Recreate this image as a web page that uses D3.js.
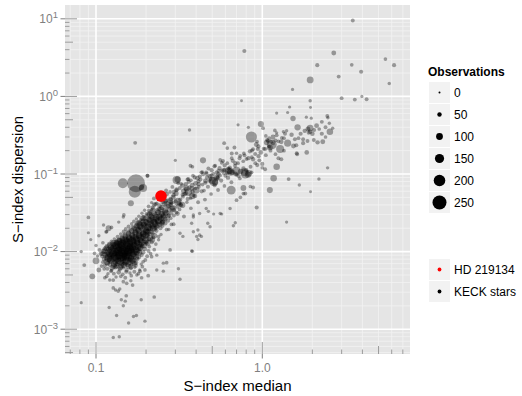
<!DOCTYPE html>
<html>
<head>
<meta charset="utf-8">
<script src="https://cdn.jsdelivr.net/npm/d3@7"></script>
<style>
  body { margin: 0; background: #fff; }
  svg { display: block; font-family: "Liberation Sans", Arial, Helvetica, sans-serif; }
</style>
</head>
<body>
<svg id="chart" width="522" height="396"></svg>
<script>
// Chromospheric activity of KECK stars: S-index median vs. dispersion, [median, dispersion, observations]

// Dense core of quiet stars
const keckCore = [
  [.117,.0060,40],[.124,.0057,30],[.131,.0063,55],[.139,.0059,45],[.146,.0062,35],[.153,.0058,50],[.162,.0061,40],[.171,.0063,30],[.183,.0058,25],
  [.113,.0066,45],[.121,.0068,60],[.128,.0065,75],[.134,.0069,50],[.142,.0066,80],[.149,.0070,55],[.156,.0065,65],[.164,.0068,45],[.173,.0066,50],[.187,.0069,30],
  [.110,.0073,35],[.117,.0071,65],[.124,.0075,85],[.130,.0072,60],[.136,.0076,95],[.143,.0071,80],[.150,.0074,100],[.158,.0072,70],[.165,.0076,85],[.174,.0072,55],[.192,.0074,35],
  [.112,.0080,60],[.120,.0078,50],[.126,.0082,100],[.133,.0077,75],[.139,.0081,115],[.145,.0078,90],[.152,.0082,105],[.160,.0079,70],[.167,.0077,95],[.177,.0081,55],[.198,.0078,40],
  [.109,.0087,45],[.116,.0084,85],[.123,.0089,105],[.129,.0085,125],[.136,.0088,95],[.142,.0084,115],[.148,.0089,100],[.155,.0086,125],[.162,.0083,80],[.170,.0088,75],[.181,.0085,60],[.203,.0087,40],
  [.107,.0094,50],[.114,.0091,80],[.121,.0095,115],[.127,.0092,130],[.133,.0096,105],[.139,.0090,125],[.146,.0094,115],[.152,.0091,130],[.159,.0096,95],[.167,.0092,90],[.176,.0095,70],[.188,.0091,50],[.213,.0094,35],
  [.111,.0101,65],[.118,.0098,90],[.124,.0103,125],[.130,.0099,135],[.137,.0104,115],[.143,.0098,135],[.149,.0102,125],[.156,.0099,135],[.163,.0104,100],[.171,.0100,90],[.180,.0103,75],[.192,.0098,55],[.207,.0102,40],
  [.113,.0109,55],[.120,.0106,85],[.127,.0111,110],[.133,.0107,130],[.139,.0112,120],[.145,.0105,130],[.152,.0110,115],[.159,.0107,135],[.166,.0112,100],[.174,.0106,95],[.184,.0110,70],[.197,.0108,55],[.224,.0106,35],
  [.116,.0117,50],[.123,.0114,80],[.130,.0119,105],[.136,.0115,115],[.142,.0120,110],[.148,.0113,125],[.155,.0118,105],[.162,.0116,120],[.170,.0120,90],[.179,.0114,85],[.190,.0118,60],[.209,.0116,40],
  [.120,.0126,45],[.127,.0122,75],[.134,.0128,95],[.140,.0124,110],[.146,.0129,100],[.153,.0123,115],[.160,.0127,100],[.168,.0124,95],[.177,.0129,85],[.187,.0123,65],[.201,.0127,50],[.229,.0125,35],
  [.124,.0135,40],[.132,.0131,70],[.139,.0137,85],[.146,.0133,100],[.153,.0138,95],[.160,.0132,100],[.168,.0136,90],[.177,.0131,85],[.187,.0137,70],[.199,.0134,55],[.217,.0132,40],
  [.129,.0145,35],[.137,.0141,60],[.144,.0147,80],[.151,.0143,90],[.158,.0148,85],[.166,.0142,95],[.174,.0146,90],[.184,.0141,80],[.195,.0147,65],[.209,.0144,50],[.238,.0142,30],
  [.135,.0156,40],[.143,.0152,55],[.150,.0158,75],[.157,.0154,85],[.165,.0160,80],[.173,.0152,90],[.182,.0157,85],[.192,.0155,75],[.204,.0159,55],[.221,.0153,40],
  [.141,.0168,40],[.149,.0164,55],[.157,.0171,70],[.165,.0166,80],[.173,.0172,85],[.182,.0165,90],[.192,.0169,80],[.204,.0167,65],[.219,.0172,45],[.246,.0166,30]
];

// Heavily observed stars packed inside the core
const keckCoreDeep = [
  [.119,.0083,120],[.126,.0097,140],[.131,.0088,150],[.135,.0101,130],[.138,.0093,145],[.142,.0106,140],[.147,.0097,150],[.151,.0086,130],[.155,.0104,145],[.158,.0114,125],
  [.162,.0099,135],[.166,.0108,120],[.171,.0118,130],[.175,.0101,110],[.179,.0124,120],[.184,.0113,100],[.188,.0132,115],[.194,.0121,90],[.199,.0140,105],[.205,.0130,80],
  [.211,.0150,95],[.218,.0141,75],[.224,.0160,85],
  [.122,.0118,110],[.128,.0128,100],[.133,.0121,120],[.137,.0133,110],[.143,.0125,125],[.148,.0139,115],[.153,.0130,125],[.159,.0145,110],[.164,.0136,120],[.169,.0151,105],
  [.175,.0141,115],[.181,.0160,100],[.186,.0150,110],[.193,.0170,95],[.198,.0162,100],[.206,.0181,85],
  [.116,.0074,90],[.122,.0079,110],[.129,.0070,100],[.134,.0083,125],[.140,.0075,115],[.146,.0085,125],[.152,.0077,110],[.157,.0090,120],[.163,.0080,100],[.168,.0094,105],
  [.174,.0085,90],[.182,.0097,80],
  [.125,.0062,70],[.133,.0066,85],[.140,.0063,80],[.147,.0067,90],[.155,.0069,80],[.162,.0064,65],[.170,.0071,70],
  [.110,.0094,70],[.113,.0102,80],[.116,.0111,75],[.118,.0089,90],
  [.175,.0190,100],[.185,.0215,110],[.195,.0238,115],[.205,.0205,120],[.214,.0255,110],[.222,.0232,120],[.230,.0275,105],[.238,.0250,110],[.246,.0298,100],[.255,.0272,95],
  [.262,.0320,90],[.180,.0230,90],[.192,.0270,80],[.210,.0300,85],[.200,.0180,95],[.220,.0200,90],[.235,.0220,80],[.250,.0235,70]
];

// Main activity sequence rising from the core
const keckBand = [
  [.147,.0181,45],[.156,.0177,55],[.164,.0184,70],[.172,.0179,80],[.181,.0186,90],[.191,.0178,85],[.202,.0183,75],[.215,.0180,60],[.231,.0185,45],
  [.151,.0196,40],[.161,.0192,50],[.170,.0199,65],[.179,.0194,80],[.189,.0201,90],[.199,.0193,95],[.211,.0198,80],[.225,.0195,65],[.244,.0200,45],[.274,.0193,30],
  [.157,.0211,40],[.167,.0207,50],[.176,.0214,65],[.185,.0209,80],[.195,.0216,95],[.206,.0208,100],[.218,.0213,85],[.232,.0210,65],[.251,.0215,45],
  [.164,.0228,35],[.174,.0223,45],[.183,.0231,60],[.193,.0225,75],[.203,.0233,90],[.214,.0224,100],[.227,.0229,90],[.242,.0226,70],[.261,.0232,50],[.284,.0224,35],
  [.169,.0246,35],[.180,.0241,45],[.190,.0249,60],[.200,.0243,75],[.211,.0252,90],[.223,.0242,95],[.236,.0247,85],[.252,.0244,65],[.271,.0250,45],
  [.175,.0264,30],[.186,.0260,40],[.197,.0268,55],[.208,.0262,70],[.219,.0271,85],[.231,.0261,90],[.245,.0266,80],[.261,.0263,60],[.281,.0270,40],
  [.181,.0286,30],[.193,.0281,40],[.204,.0291,55],[.215,.0284,70],[.227,.0294,85],[.240,.0282,90],[.254,.0288,75],[.271,.0285,55],[.294,.0292,40],
  [.189,.0312,30],[.201,.0306,40],[.212,.0318,55],[.224,.0309,70],[.236,.0321,80],[.249,.0307,85],[.264,.0315,70],[.282,.0311,50],[.305,.0319,35],
  [.196,.0342,30],[.208,.0336,40],[.220,.0349,55],[.233,.0339,65],[.246,.0352,75],[.260,.0337,80],[.276,.0345,65],[.294,.0341,50],[.318,.0350,35],
  [.207,.0383,35],[.219,.0369,50],[.241,.0392,60],[.249,.0371,70],[.272,.0386,55],[.281,.0402,50],[.309,.0379,45],[.326,.0397,35],
  [.216,.0428,30],[.228,.0409,45],[.252,.0436,55],[.259,.0414,70],[.284,.0429,55],[.301,.0446,45],[.315,.0421,50],[.352,.0433,30],
  [.223,.0485,40],[.247,.0462,45],[.256,.0497,60],[.281,.0476,55],[.291,.0502,60],[.321,.0468,45],[.333,.0511,40],[.371,.0486,30],
  [.255,.0526,35],[.266,.0551,55],[.293,.0533,50],[.303,.0562,65],[.332,.0541,45],[.347,.0566,50],[.385,.0529,30],
  [.264,.0612,40],[.294,.0588,45],[.305,.0634,50],[.336,.0603,65],[.347,.0641,45],[.381,.0596,50],[.397,.0652,30],[.446,.0612,35],
  [.288,.0682,40],[.319,.0659,40],[.331,.0711,55],[.364,.0673,50],[.379,.0719,55],[.415,.0686,40],[.437,.0731,35],
  [.312,.0762,30],[.347,.0741,50],[.361,.0793,45],[.397,.0756,60],[.413,.0807,40],[.455,.0771,45],[.479,.0812,30],
  [.355,.0852,40],[.372,.0829,35],[.407,.0884,55],[.424,.0847,45],[.466,.0901,50],[.489,.0861,35],[.538,.0912,40],
  [.383,.0951,35],[.421,.0926,45],[.441,.0991,40],[.483,.0943,55],[.507,.1004,40],[.556,.0958,45],[.586,.1012,30],
  [.430,.105,35],[.462,.101,40],[.496,.112,45],[.532,.104,50],[.571,.110,45],[.613,.103,40],
  [.515,.126,40],[.553,.119,45],[.594,.129,45],[.638,.121,40],[.686,.128,40],
  [.664,.148,45],[.714,.138,40],[.768,.146,35],[.804,.156,40],[.865,.165,35],
  [.782,.174,40],[.842,.196,45],[.906,.181,40],
  [.88,.208,40],[.948,.227,45],[1.02,.212,40],[1.10,.225,35],
  [.93,.262,35],[1.08,.266,45],[1.16,.248,40],[1.25,.264,35],
  [1.05,.310,35],[1.22,.315,40],[1.31,.292,35],[1.50,.320,50],[1.57,.280,40],[1.70,.330,45],
  [1.19,.365,35],[1.80,.360,50],[2.05,.370,40],[2.20,.380,35],[2.40,.400,40],[2.40,.300,35]
];

// Stars spread either side of the sequence, with a few heavily observed clumps
const keckBandSpread = [
  [.210,.0170,45],[.213,.0305,40],[.224,.0401,55],[.228,.0203,50],[.238,.0156,35],[.240,.0352,60],[.250,.0241,45],[.253,.0515,40],[.262,.0447,55],[.266,.0192,40],
  [.274,.0292,50],[.279,.0588,35],[.289,.0363,60],[.293,.0226,40],[.305,.0618,45],[.309,.0309,55],[.322,.0405,50],[.325,.0748,35],[.338,.0284,40],[.341,.0552,55],
  [.356,.0478,45],[.359,.0862,40],[.372,.0362,35],[.377,.0652,60],[.392,.0903,45],[.394,.0522,50],[.411,.0433,40],[.415,.0738,55],[.432,.0598,45],[.436,.1062,35],
  [.452,.0468,40],[.455,.0815,60],[.471,.0685,45],[.474,.1175,40],[.492,.0553,35],[.495,.0948,50],[.517,.0718,45],[.521,.1282,35],[.542,.0622,40],[.545,.1003,50],
  [.566,.0823,45],[.571,.1395,40],[.592,.0702,35],[.595,.1121,45],[.622,.0898,50],[.652,.0782,40],[.655,.1598,35],[.702,.0982,45],[.733,.0878,35],[.736,.1712,40],
  [.802,.1121,45],[.862,.1052,35],[.866,.2005,40],[.932,.1302,45],[1.00,.1205,35],
  [.50,.083,110],[.52,.078,90],[.53,.090,80],[.625,.110,110],[.645,.105,100],[.78,.106,120],[.83,.102,100],
  [.27,.040,110],[.29,.036,100],[.31,.044,120],[.33,.040,90],[.28,.045,80],
  [.36,.058,110],[.38,.052,95],[.40,.062,105],[.35,.065,85]
];

// Active stars and the upper branch
const keckActive = [
  [3.5,9.5,40],[0.78,3.85,45],[2.69,3.63,60],[2.14,2.53,45],[3.45,2.55,35],[5.5,3.03,35],[6.2,2.53,45],[3.93,2.08,45],[2.88,1.80,40],[1.94,1.63,100],
  [5.8,1.47,30],[1.52,1.23,25],[3.0,0.95,40],[3.6,0.91,40],[3.97,1.0,25],[4.24,0.92,40],[0.75,0.88,20],[1.94,0.88,30],[1.95,0.72,20],[1.46,0.73,25],
  [1.22,0.61,25],[1.42,0.62,25],[1.53,0.52,70],[1.84,0.54,25],[1.97,0.525,25],[2.46,0.56,40],[2.48,0.53,30],[0.715,0.43,25],[0.825,0.40,25],[0.98,0.44,85],
  [1.63,0.40,90],[1.94,0.39,95],[2.12,0.42,60],[2.28,0.47,40],[2.53,0.45,30],[2.65,0.39,30],[2.55,0.35,95],[2.28,0.33,45],[1.88,0.38,60],[1.94,0.35,55],
  [2.0,0.33,55],[1.9,0.34,40],[2.04,0.274,40],[2.15,0.256,50],[2.31,0.26,60],[1.76,0.28,40],[1.87,0.266,40],[1.65,0.29,40],[1.54,0.23,60],[1.61,0.185,40],
  [1.85,0.19,55],[1.40,0.36,30],[1.34,0.35,30],[1.37,0.33,40],[1.22,0.34,25],[1.14,0.24,165],[1.28,0.21,125],[1.11,0.22,80],[1.07,0.274,45],[1.01,0.39,40],
  [1.22,0.124,95],[1.30,0.155,45],[1.04,0.115,40],[1.17,0.088,95],[1.11,0.062,85],[1.44,0.086,40],[1.67,0.072,30],[1.95,0.059,20],[2.19,0.086,30],[2.47,0.12,30],
  [0.86,0.30,190],[1.10,0.29,40],[1.42,0.25,105],[1.60,0.235,45],[1.76,0.25,45],[1.62,0.18,40],[1.13,0.26,40],[1.04,0.21,45],[1.05,0.175,40],[0.98,0.19,55],
  [0.95,0.17,45],[1.25,0.16,40],[0.88,0.067,40],[0.79,0.10,145],[0.70,0.11,125],[0.64,0.11,100],[0.65,0.062,145],[0.60,0.095,40],[0.58,0.147,40],[0.59,0.25,40],
  [0.68,0.22,40],[0.44,0.15,85],[0.37,0.128,40],[0.46,0.105,40],[0.51,0.08,145],[0.54,0.088,60],[0.79,0.056,40],
  [0.365,0.37,30],[0.30,0.15,25],[0.38,0.124,35],[0.558,0.152,35],[0.616,0.216,35],[0.655,0.184,40],[0.70,0.185,30],[0.775,0.184,35],[0.73,0.16,40],[0.825,0.16,50],
  [0.908,0.138,40],[0.616,0.138,35],[0.688,0.138,45],[0.625,0.118,40],[0.585,0.112,50],[0.545,0.11,40],[0.77,0.118,50],[0.85,0.124,40],[0.66,0.105,80],[0.69,0.10,60],
  [0.74,0.108,70],[0.82,0.098,90],[0.72,0.095,50],[0.31,0.085,90],[0.204,0.095,40],[0.172,0.252,40],[0.77,0.066,80],[0.848,0.069,35],
  [0.92,0.24,60],[1.06,0.255,70],[1.16,0.30,60],[1.20,0.27,45],[1.30,0.26,55],[1.35,0.29,40],[1.12,0.20,40],[1.35,0.20,35],[0.94,0.21,45],[0.96,0.15,40],
  [1.20,0.18,35],[0.88,0.155,50],[1.00,0.135,45]
];

// Scattered stars below and beside the sequence
const keckScatter = [
  [0.925,0.037,45],[0.70,0.046,35],[0.738,0.05,35],[0.77,0.056,35],[1.40,0.024,25],[0.688,0.0236,30],[0.67,0.0215,30],[0.57,0.0305,25],[0.51,0.0305,25],[0.46,0.036,30],
  [0.47,0.0232,30],[0.485,0.0209,30],[0.42,0.031,30],[0.385,0.0297,30],[0.376,0.0232,30],[0.385,0.018,30],[0.403,0.0157,30],[0.41,0.0143,30],[0.42,0.0164,30],[0.38,0.0101,30],
  [0.41,0.019,30],[0.43,0.0157,30],[0.32,0.0172,30],[0.333,0.0157,30],[0.474,0.033,30],[0.558,0.031,30],[0.64,0.036,30],[0.385,0.028,30],
  [.128,.0052,40],[.137,.0054,55],[.145,.0051,35],[.152,.0055,45],[.160,.0053,30],[.170,.0055,40],[.141,.0048,35],[.132,.0047,30],[.150,.0046,40],[.163,.0049,35],
  [.176,.0050,30],[.188,.0046,35],[.206,.0049,40],[.197,.0058,35],[.184,.0056,35],[.123,.0056,35],[.118,.0052,30],[.116,.0048,35],[.127,.0043,35],[.121,.0043,30],
  [.146,.0041,35],[.153,.0039,35],[.162,.0042,30],[.166,.0037,35],[.136,.0031,35],[.131,.0032,30],[.139,.0033,30],[.127,.0034,35],[.142,.0024,30],[.150,.0023,30],
  [.152,.0027,35],[.146,.0020,30],[.120,.0019,30],[.133,.0015,30],[.127,.00078,30],[.138,.0008,30],[.157,.0012,30],[.168,.00146,30],[.175,.0015,30],[.197,.00127,30],
  [.187,.0024,30],[.224,.0026,35],[.180,.0052,35],[.232,.0058,30],[.254,.0056,30],[.190,.0064,35],[.313,.006,30],[.320,.0044,30],[.266,.0072,35],[.279,.0105,35],
  [.376,.0102,30],[.216,.0086,35],[.232,.009,30],[.254,.0071,30],
  [.090,.0276,35],[.090,.0175,25],[.093,.0143,25],[.0815,.0100,30],[.100,.0076,100],[.085,.0067,40],[.104,.0058,60],[.095,.0048,80],[.113,.0046,35],[.0815,.0022,25],
  [.112,.0060,35],[.108,.0065,35],[.102,.0088,30],[.098,.0095,35],[.105,.0105,40],[.100,.0120,30],[.110,.0130,35],[.104,.0160,30],[.115,.0180,35],[.119,.0200,80],
  [.111,.0220,30],[.147,.0297,35],[.137,.0240,30],[.124,.0205,35],[.116,.0180,30],[.146,.028,30],[.216,.0344,35],[.232,.042,30],[.266,.046,35],[.286,.042,30],
  [.162,.042,85],[.171,.059,210],[.174,.076,330],[.145,.076,165],[.192,.066,125],[.188,.067,70],[.305,.084,125],[.204,.095,40]
];

// Highlighted star: [median, dispersion, observations]
const hd219134 = [0.246, 0.052, 200];

const sizeBreaks = [0, 50, 100, 150, 200, 250];
const xTickValues = [0.1, 1];
const xTickLabels = ["0.1", "1.0"];
const yTickValues = [10, 1, 0.1, 0.01, 0.001];
const yTickExponents = ["1", "0", "\u22121", "\u22122", "\u22123"];
const colourLegend = [
  { label: "HD 219134", colour: "#ff0000" },
  { label: "KECK stars", colour: "#000000" }
];

const keckStars = keckCore.concat(keckCoreDeep, keckBand, keckBandSpread, keckActive, keckScatter);

const svg = d3.select("#chart");
const panel = { left: 65, right: 410, top: 5, bottom: 354 };

const x = d3.scaleLog().domain([0.0651, 7.73]).range([panel.left, panel.right]);
const y = d3.scaleLog().domain([0.000479, 15.07]).range([panel.bottom, panel.top]);
const radius = d3.scaleLinear().domain([0, 250]).range([1, 7]);

// panel background
svg.append("rect")
  .attr("x", panel.left).attr("y", panel.top)
  .attr("width", panel.right - panel.left).attr("height", panel.bottom - panel.top)
  .attr("fill", "#e5e5e5");

svg.append("clipPath").attr("id", "panel-clip")
  .append("rect")
  .attr("x", panel.left).attr("y", panel.top)
  .attr("width", panel.right - panel.left).attr("height", panel.bottom - panel.top);

// log-spaced minor and major gridlines
function logValues(domain, multipliers) {
  const out = [];
  const lo = Math.floor(Math.log10(domain[0])), hi = Math.ceil(Math.log10(domain[1]));
  for (let e = lo; e <= hi; e++) {
    for (const k of multipliers) {
      const v = k * Math.pow(10, e);
      if (v >= domain[0] && v <= domain[1]) out.push(v);
    }
  }
  return out;
}
const minorMult = [2, 3, 4, 5, 6, 7, 8, 9];
const xMinor = logValues(x.domain(), minorMult);
const yMinor = logValues(y.domain(), minorMult);
const xMajor = logValues(x.domain(), [1]);
const yMajor = logValues(y.domain(), [1]);

const grid = svg.append("g");
grid.selectAll(".xminor").data(xMinor).join("line")
  .attr("x1", d => x(d)).attr("x2", d => x(d))
  .attr("y1", panel.top).attr("y2", panel.bottom)
  .attr("stroke", "#f3f3f3").attr("stroke-width", 0.8);
grid.selectAll(".yminor").data(yMinor).join("line")
  .attr("y1", d => y(d)).attr("y2", d => y(d))
  .attr("x1", panel.left).attr("x2", panel.right)
  .attr("stroke", "#f3f3f3").attr("stroke-width", 0.8);
grid.selectAll(".xmajor").data(xMajor).join("line")
  .attr("x1", d => x(d)).attr("x2", d => x(d))
  .attr("y1", panel.top).attr("y2", panel.bottom)
  .attr("stroke", "#ffffff").attr("stroke-width", 1.6);
grid.selectAll(".ymajor").data(yMajor).join("line")
  .attr("y1", d => y(d)).attr("y2", d => y(d))
  .attr("x1", panel.left).attr("x2", panel.right)
  .attr("stroke", "#ffffff").attr("stroke-width", 1.6);

// log ticks along the bottom and left panel edges
const tickLen = k => (k === 1 ? 12 : k === 5 ? 8 : 4.5);
const logTicks = svg.append("g").attr("stroke", "#9a9a9a").attr("stroke-width", 1);
const allMult = [1, 2, 3, 4, 5, 6, 7, 8, 9];
allMult.forEach(k => {
  logTicks.selectAll(null).data(logValues(x.domain(), [k])).join("line")
    .attr("x1", d => x(d)).attr("x2", d => x(d))
    .attr("y1", panel.bottom).attr("y2", panel.bottom - tickLen(k));
  logTicks.selectAll(null).data(logValues(y.domain(), [k])).join("line")
    .attr("y1", d => y(d)).attr("y2", d => y(d))
    .attr("x1", panel.left).attr("x2", panel.left + tickLen(k));
});

// points
const pts = svg.append("g").attr("clip-path", "url(#panel-clip)");
pts.selectAll("circle.keck").data(keckStars).join("circle")
  .attr("class", "keck")
  .attr("cx", d => x(d[0])).attr("cy", d => y(d[1]))
  .attr("r", d => radius(d[2]))
  .attr("fill", "#000").attr("fill-opacity", 0.35);
pts.append("circle")
  .attr("cx", x(hd219134[0])).attr("cy", y(hd219134[1]))
  .attr("r", radius(hd219134[2]))
  .attr("fill", "#ff0000");

// axes
const axisCol = "#7f7f7f";
const axes = svg.append("g");
axes.selectAll(".xt").data(xTickValues).join("line")
  .attr("x1", d => x(d)).attr("x2", d => x(d))
  .attr("y1", panel.bottom).attr("y2", panel.bottom + 4.5)
  .attr("stroke", axisCol).attr("stroke-width", 1);
axes.selectAll(".xl").data(xTickValues).join("text")
  .attr("x", d => x(d)).attr("y", 372)
  .attr("text-anchor", "middle").attr("font-size", 12).attr("fill", axisCol)
  .text((d, i) => xTickLabels[i]);
axes.selectAll(".yt").data(yTickValues).join("line")
  .attr("y1", d => y(d)).attr("y2", d => y(d))
  .attr("x1", panel.left - 4.5).attr("x2", panel.left)
  .attr("stroke", axisCol).attr("stroke-width", 1);
const yLab = axes.selectAll(".yl").data(yTickValues).join("text")
  .attr("x", 58).attr("y", d => y(d) + 4.5)
  .attr("text-anchor", "end").attr("font-size", 12).attr("fill", axisCol);
yLab.append("tspan").text("10");
yLab.append("tspan").attr("dy", -5).attr("font-size", 9.5).text((d, i) => yTickExponents[i]);

svg.append("text")
  .attr("x", (panel.left + panel.right) / 2).attr("y", 391)
  .attr("text-anchor", "middle").attr("font-size", 15).attr("fill", "#000")
  .text("S\u2212index median");
svg.append("text")
  .attr("transform", `translate(23,${(panel.top + panel.bottom) / 2}) rotate(-90)`)
  .attr("text-anchor", "middle").attr("font-size", 15).attr("fill", "#000")
  .text("S\u2212index dispersion");

// size legend
const legend = svg.append("g");
legend.append("text")
  .attr("x", 428).attr("y", 76)
  .attr("font-size", 12).attr("font-weight", "bold").attr("fill", "#000")
  .text("Observations");
const sizeKeys = legend.selectAll(".sk").data(sizeBreaks).join("g")
  .attr("transform", (d, i) => `translate(429,${82 + 22 * i})`);
sizeKeys.append("rect").attr("width", 21).attr("height", 21).attr("fill", "#f2f2f2");
sizeKeys.append("circle").attr("cx", 10.5).attr("cy", 10.5).attr("r", d => radius(d)).attr("fill", "#000");
sizeKeys.append("text").attr("x", 25).attr("y", 15).attr("font-size", 12).attr("fill", "#000").text(d => d);

// colour legend
const colKeys = legend.selectAll(".ck").data(colourLegend).join("g")
  .attr("transform", (d, i) => `translate(429,${259 + 22 * i})`);
colKeys.append("rect").attr("width", 21).attr("height", 21).attr("fill", "#f2f2f2");
colKeys.append("circle").attr("cx", 10.5).attr("cy", 10.5).attr("r", 1.9).attr("fill", d => d.colour);
colKeys.append("text").attr("x", 25).attr("y", 15).attr("font-size", 12).attr("fill", "#000").text(d => d.label);
</script>
</body>
</html>
